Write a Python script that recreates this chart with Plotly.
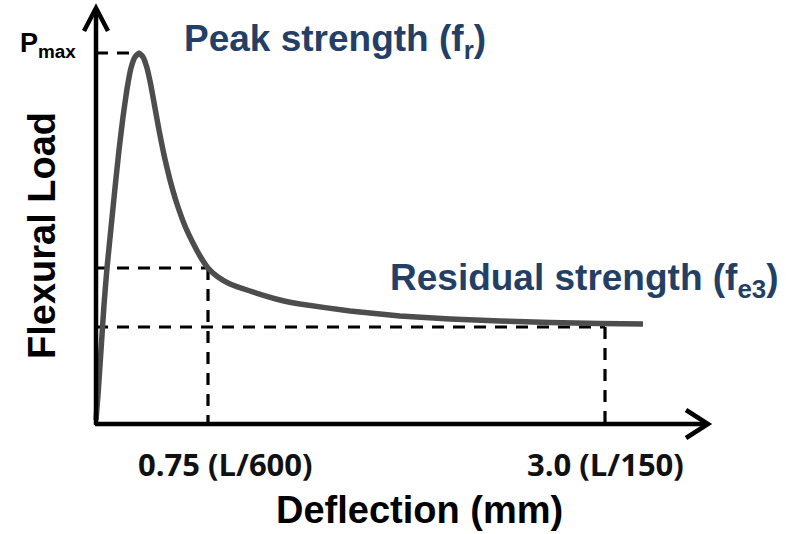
import plotly.graph_objects as go

# Schematic load-deflection curve (arbitrary schematic units)
deflection = [0, 2, 5, 8, 11, 15, 19, 23, 27, 31, 35, 39, 43, 47, 51, 55, 59, 63, 68, 74, 81, 89,
              97, 104, 112, 122, 134, 154, 184, 204, 254, 304, 354, 404, 454, 504, 547]
load = [4, 29, 74, 119, 156, 196, 236, 274, 307, 335, 356, 367, 371, 367, 356, 338, 316, 294,
        269, 244, 220, 198, 181, 168, 156, 147, 140, 133, 124, 120, 113, 108, 105, 103, 101.5, 100.5, 100]

tick_positions = [112, 509]
tick_labels = ["0.75 (L/600)", "3.0 (L/150)"]
residual_levels = [156, 97]
peak_load = max(load)
peak_defl = deflection[load.index(peak_load)]

x_axis_end = 612
y_axis_end = 416

fig = go.Figure()

dash_style = dict(color="black", width=3.2, dash="12px,9px")

# peak dashed
fig.add_trace(go.Scatter(x=[0, peak_defl], y=[peak_load, peak_load], mode="lines",
                         line=dash_style, hoverinfo="skip"))
# reference dashed lines
for xv, yv in zip(tick_positions, residual_levels):
    fig.add_trace(go.Scatter(x=[0, xv], y=[yv, yv], mode="lines", line=dash_style, hoverinfo="skip"))
    fig.add_trace(go.Scatter(x=[xv, xv], y=[yv, 0], mode="lines", line=dash_style, hoverinfo="skip"))

# curve
fig.add_trace(go.Scatter(x=deflection, y=load, mode="lines",
                         line=dict(color="#4d4d4d", width=5.5, shape="spline", smoothing=0.4),
                         hoverinfo="skip"))

# axes with chevron arrowheads
ax_line = dict(color="black", width=4.5)
shapes = [
    dict(type="line", x0=-1, y0=0, x1=x_axis_end - 2, y1=0, line=ax_line, layer="above"),
    dict(type="line", x0=0, y0=-1, x1=0, y1=y_axis_end - 2, line=ax_line, layer="above"),
    dict(type="path", path=f"M {x_axis_end-22},14 L {x_axis_end},0 L {x_axis_end-22},-14",
         line=ax_line, layer="above"),
    dict(type="path", path=f"M -12,{y_axis_end-23} L 0,{y_axis_end} L 12,{y_axis_end-23}",
         line=ax_line, layer="above"),
]

blue = "#243f66"
annotations = [
    dict(x=-18, y=peak_load + 8, text="<b>P<sub>max</sub></b>", showarrow=False,
         xanchor="right", yanchor="middle", font=dict(family="Liberation Sans", size=27, color="black")),
    dict(x=86, y=peak_load + 12, text="<b>Peak strength (f<sub>r</sub>)</b>", showarrow=False,
         xanchor="left", yanchor="middle", font=dict(family="Liberation Sans", size=37, color=blue)),
    dict(x=292, y=144, text="<b>Residual strength (f<sub>e3</sub>)</b>", showarrow=False,
         xanchor="left", yanchor="middle", font=dict(family="Liberation Sans", size=37, color=blue)),
    dict(x=-54, y=188, text="<b>Flexural Load</b>", showarrow=False, textangle=-90,
         xanchor="center", yanchor="middle", font=dict(family="Liberation Sans", size=38, color="black")),
    dict(x=323, y=-86, text="<b>Deflection (mm)</b>", showarrow=False,
         xanchor="center", yanchor="middle", font=dict(family="Liberation Sans", size=38, color="black")),
]
tick_offsets = [17, 0]
for xv, lab, off in zip(tick_positions, tick_labels, tick_offsets):
    annotations.append(dict(x=xv + off, y=-40, text=f"<b>{lab}</b>", showarrow=False,
                            xanchor="center", yanchor="middle",
                            font=dict(family="Open Sans", size=31, color="#111111")))

fig.update_layout(
    width=793, height=534,
    margin=dict(l=0, r=0, t=0, b=0),
    paper_bgcolor="white", plot_bgcolor="white",
    showlegend=False,
    xaxis=dict(range=[-96, 697], visible=False, fixedrange=True),
    yaxis=dict(range=[-110, 424], visible=False, fixedrange=True),
    shapes=shapes,
    annotations=annotations,
)

fig.write_html("out.html")
